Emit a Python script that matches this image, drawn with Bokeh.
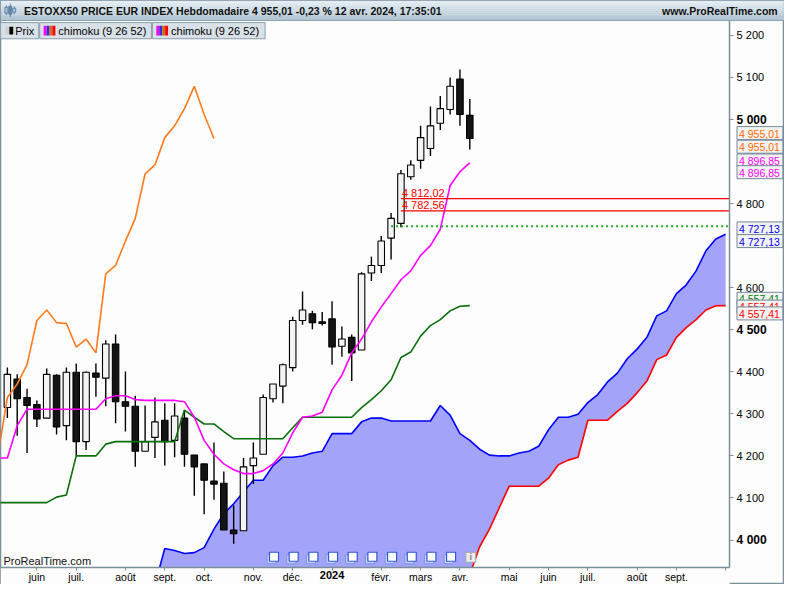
from bokeh.plotting import figure
from bokeh.models import Range1d, FixedTicker, Label, BoxAnnotation
from bokeh.embed import file_html
from bokeh.resources import INLINE

# ---------------- data (weekly bars, index 0 = week of 15 May 2023) ----------------
bar_index = list(range(48))
opens = [4315, 4383, 4339, 4322, 4290, 4392, 4272, 4399, 4234, 4397, 4385, 4466, 4329, 4318, 4211, 4244,
         4285, 4237, 4290, 4202, 4181, 4140, 4135, 4024, 4022, 4177, 4204, 4336, 4366, 4410, 4522, 4538,
         4519, 4526, 4461, 4482, 4452, 4635, 4653, 4718, 4753, 4864, 4903, 4931, 4991, 5024, 5096, 5010]
highs = [4410, 4394, 4360, 4332, 4408, 4394, 4410, 4420, 4401, 4420, 4475, 4489, 4401, 4343, 4320, 4339,
         4325, 4325, 4309, 4202, 4181, 4232, 4163, 4082, 4195, 4232, 4346, 4371, 4420, 4531, 4591, 4545,
         4542, 4568, 4508, 4489, 4637, 4674, 4723, 4778, 4880, 4903, 4985, 5031, 5056, 5100, 5119, 5049]
lows = [4290, 4248, 4207, 4269, 4290, 4251, 4237, 4200, 4214, 4341, 4318, 4278, 4258, 4174, 4211, 4195,
        4177, 4197, 4174, 4105, 4061, 4096, 4024, 3991, 4022, 4133, 4204, 4327, 4325, 4401, 4512, 4501,
        4510, 4417, 4436, 4378, 4452, 4616, 4635, 4667, 4744, 4857, 4883, 4913, 4975, 5012, 4985, 4929]
closes = [4394, 4336, 4320, 4288, 4394, 4269, 4399, 4234, 4399, 4387, 4466, 4329, 4318, 4211, 4234, 4281,
          4234, 4295, 4204, 4174, 4142, 4133, 4024, 4015, 4174, 4195, 4339, 4371, 4417, 4522, 4547, 4517,
          4515, 4459, 4478, 4445, 4633, 4653, 4711, 4765, 4871, 4892, 4957, 4985, 5026, 5079, 5012, 4955.01]

# Tenkan / Kijun from the week before bar 0 (index -1) to the last bar
line_index = list(range(-1, 48))
tenkan = [4195, 4195, 4272, 4311, 4311, 4311, 4311, 4311, 4311, 4311, 4311, 4336, 4343, 4343, 4334, 4332,
          4332, 4332, 4332, 4329, 4292, 4237, 4204, 4181, 4167, 4158, 4158, 4165, 4181, 4207, 4255, 4292,
          4295, 4304, 4357, 4392, 4445, 4478, 4519, 4554, 4586, 4619, 4640, 4677, 4700, 4739, 4843, 4876,
          4896.85]
kijun = [4089, 4089, 4089, 4089, 4089, 4089, 4102, 4107, 4200, 4200, 4200, 4228, 4234, 4234, 4234, 4234,
         4234, 4234, 4234, 4309, 4292, 4276, 4276, 4258, 4241, 4241, 4241, 4241, 4241, 4241, 4267, 4292,
         4292, 4292, 4292, 4292, 4292, 4315, 4334, 4355, 4381, 4434, 4447, 4485, 4510, 4524, 4545, 4556,
         4557.41]

chikou_shift = 26
senkou_idx = list(range(15, 74))
senkou_a = [3894, 3980, 3975, 3968, 3970, 3982, 4026, 4063, 4086, 4114, 4142, 4142, 4177, 4197, 4197, 4200,
            4207, 4211, 4253, 4253, 4253, 4281, 4290, 4290, 4283, 4283, 4283, 4283, 4283, 4320, 4297, 4253,
            4237, 4216, 4202, 4200, 4200, 4207, 4211, 4223, 4262, 4292, 4292, 4299, 4327, 4346, 4376, 4397,
            4431, 4454, 4482, 4533, 4545, 4586, 4607, 4640, 4688, 4716, 4727.13]
senkou_b = [3885, 3885, 3885, 3885, 3885, 3885, 3885, 3885, 3885, 3885, 3885, 3885, 3890, 3890, 3890, 3890,
            3890, 3890, 3890, 3900, 3900, 3900, 3900, 3900, 3900, 3900, 3905, 3905, 3905, 3910, 3910, 3915,
            3918, 3984, 4026, 4077, 4128, 4128, 4128, 4128, 4147, 4179, 4190, 4197, 4285, 4285, 4285, 4306,
            4325, 4350, 4378, 4429, 4440, 4482, 4505, 4524, 4547, 4557, 4557.41]

red_levels = [4812.02, 4782.56]
red_level_start = 40
green_level = 4746
green_level_start = 39
event_idx = [27, 29, 31, 33, 35, 37, 39, 41, 43, 45]
info_idx = 47

y_ticks = [4000, 4100, 4200, 4300, 4400, 4500, 4600, 4800, 5000, 5100, 5200]
y_tick_labels = ["4 000", "4 100", "4 200", "4 300", "4 400", "4 500", "4 600", "4 800", "5 000", "5 100", "5 200"]
y_bold_ticks = [4000, 4500, 5000]
x_ticks = [3, 7, 12, 16, 20, 25, 29, 33, 38, 42, 46, 51, 55, 59, 64, 68, 73]
x_tick_labels = ["juin", "juil.", "août", "sept.", "oct.", "nov.", "déc.", "2024", "févr.", "mars", "avr.",
                 "mai", "juin", "juil.", "août", "sept.", ""]
x_bold_labels = ["2024"]

title_text = "ESTOXX50 PRICE EUR INDEX Hebdomadaire 4 955,01 -0,23 % 12 avr. 2024, 17:35:01"
site_text = "www.ProRealTime.com"
legend_texts = ["Prix", "chimoku (9 26 52)", "chimoku (9 26 52)"]
watermark = "ProRealTime.com"

# ---------------- layout calibration ----------------
FONT = "Liberation Sans"
W, H = 784, 584          # figure size on the page
RW, RH = 800.0, 600.0    # reference picture size
PX_BAR, PX_OFF = 10.04, 7.0          # reference px per weekly bar, offset of bar 0
PX_PER_PT, PX_4000 = 0.432, 554.3    # reference px per index point, y of 4000
AXIS_COL = "#7b8e9b"
BG = "#fdfdfd"


def bx(rx):   # reference x pixel -> bar index units
    return (rx - PX_OFF) / PX_BAR


def vy(ry):   # reference y pixel -> index value
    return 4000 + (PX_4000 - ry) / PX_PER_PT


def sx(rx):   # reference x pixel -> screen x (from frame left)
    return rx * W / RW


def sy(ry):   # reference y pixel -> screen y (from frame bottom)
    return H - ry * H / RH


def fmt(v):
    return f"{v:,.2f}".replace(",", " ").replace(".", ",")


X0, X1, X_AXIS = bx(0), bx(RW), bx(744)
Y_BOT, Y_TOP, Y_AXIS, Y_PLOT_TOP = vy(RH), vy(0), vy(583), vy(21)


def box(l, r, t, b, color, line=None):
    return BoxAnnotation(left=sx(l), right=sx(r), top=sy(t), bottom=sy(b), left_units="screen",
                         right_units="screen", top_units="screen", bottom_units="screen",
                         fill_color=color, fill_alpha=1, line_color=line, line_width=1, line_alpha=1)


p = figure(width=W, height=H, x_range=Range1d(X0, X1), y_range=Range1d(Y_BOT, Y_TOP),
           output_backend="svg", toolbar_location=None, y_axis_location="right", min_border=0,
           background_fill_color=BG, border_fill_color=BG)
p.grid.visible = False
p.outline_line_color = AXIS_COL
p.outline_line_width = 1.5

ya = p.yaxis[0]
ya.fixed_location = X_AXIS
ya.bounds = (Y_AXIS, Y_PLOT_TOP)
ya.ticker = FixedTicker(ticks=y_ticks)
ya.major_label_overrides = {t: ("" if t in y_bold_ticks else lab) for t, lab in zip(y_ticks, y_tick_labels)}
ya.major_tick_out = 4
ya.major_tick_in = 0
ya.minor_tick_line_color = None
ya.axis_line_color = AXIS_COL
ya.axis_line_width = 1.5
ya.major_tick_line_color = AXIS_COL
ya.major_label_standoff = 3
ya.major_label_text_font = FONT
ya.major_label_text_font_size = "11px"
ya.major_label_text_color = "#000000"

xa = p.xaxis[0]
xa.fixed_location = Y_AXIS
xa.bounds = (X0, X_AXIS)
xa.ticker = FixedTicker(ticks=x_ticks)
xa.major_label_overrides = {t: ("" if lab in x_bold_labels else lab) for t, lab in zip(x_ticks, x_tick_labels)}
xa.major_tick_out = 3
xa.major_tick_in = 0
xa.minor_tick_line_color = None
xa.axis_line_color = AXIS_COL
xa.axis_line_width = 1.5
xa.major_tick_line_color = AXIS_COL
xa.major_label_standoff = 0
xa.major_label_text_font = FONT
xa.major_label_text_font_size = "10.5px"
xa.major_label_text_color = "#000000"

# ---- cloud ----
p.varea(x=senkou_idx, y1=senkou_a, y2=senkou_b, fill_color="#a3a3fa")
p.line(senkou_idx, senkou_a, line_color="#0000ff", line_width=1.6)
p.line(senkou_idx, senkou_b, line_color="#ff0000", line_width=1.6)

# mask for anything drawn below the time axis
p.quad(left=X0, right=X_AXIS, bottom=Y_BOT, top=Y_AXIS, fill_color=BG, line_color=None)

# ---- event icons ----
p.scatter([i - 0.15 for i in event_idx], [vy(574) for _ in event_idx], marker="square", size=9,
          fill_color="#c6d2fb", line_color="#7d95e6", line_width=1)
p.scatter([i + 0.1 for i in event_idx], [vy(571.5) for _ in event_idx], marker="square", size=9,
          fill_color="#ffffff", line_color="#3158d6", line_width=1.2)
p.scatter([info_idx + 0.1], [vy(572)], marker="square", size=10, fill_color="#ececec",
          line_color="#a0a0a0", line_width=1)
p.text([info_idx + 0.1], [vy(572)], text=["i"], text_font_size="9px", text_font_style="bold",
       text_color="#808080", text_align="center", text_baseline="middle")

# ---- candles ----
body_top = [max(o, c) for o, c in zip(opens, closes)]
body_bot = [min(o, c) for o, c in zip(opens, closes)]
body_fill = ["#f4f4f4" if c >= o else "#141414" for o, c in zip(opens, closes)]
p.segment(x0=bar_index, y0=lows, x1=bar_index, y1=highs, line_color="#000000", line_width=1.4)
p.vbar(x=bar_index, top=body_top, bottom=body_bot, width=0.66, fill_color=body_fill,
       line_color="#000000", line_width=1.1)

# ---- ichimoku lines ----
p.line(line_index, kijun, line_color="#0a6e0a", line_width=1.6)
p.line(line_index, tenkan, line_color="#ff00ff", line_width=1.6)
chikou_x = [i - chikou_shift for i in range(25, 48)]
chikou_y = closes[25:48]
p.line(chikou_x, chikou_y, line_color="#ff7a1c", line_width=1.6)

# ---- horizontal levels ----
for v in red_levels:
    p.segment(x0=red_level_start, y0=v, x1=X_AXIS, y1=v, line_color="#ff0000", line_width=1.2)
    p.add_layout(Label(x=red_level_start + 0.1, y=v, text=fmt(v), text_font=FONT, text_font_size="11px",
                       text_color="#ff0000", text_baseline="bottom"))
p.segment(x0=green_level_start, y0=green_level, x1=X_AXIS, y1=green_level, line_color="#22aa22",
          line_width=2, line_dash="2 3")

# ---- bold tick labels ----
for t, lab in zip(y_ticks, y_tick_labels):
    if t in y_bold_ticks:
        p.add_layout(Label(x=sx(744) + 7, x_units="screen", y=t, y_units="data", text=lab, text_font=FONT,
                           text_font_style="bold", text_font_size="12px", text_baseline="middle",
                           text_color="#000000"))
for t, lab in zip(x_ticks, x_tick_labels):
    if lab in x_bold_labels:
        p.add_layout(Label(x=t, y=sy(583) - 3, y_units="screen", text=lab, text_font=FONT,
                           text_font_style="bold", text_font_size="11px", text_baseline="top",
                           text_align="center", text_color="#000000"))

# ---- header bar ----
top_c, bot_c = (226, 236, 242), (178, 197, 210)
nb = 10
for k in range(nb):
    f = k / (nb - 1)
    c = "#%02x%02x%02x" % tuple(int(round(top_c[j] + (bot_c[j] - top_c[j]) * f)) for j in range(3))
    p.add_layout(box(0, RW, k * 2.0, k * 2.0 + 2.05, c))
p.add_layout(box(0, RW, 20, 21, "#8ea2b0"))
for cx, lo, hi, blo, bhi, col in [(6, 15, 5, 13, 7, "#b8cadb"), (10, 17, 3, 14, 6, "#5f82a6"),
                                   (14, 14, 6, 12, 8, "#b8cadb")]:
    p.add_layout(box(cx - 0.5, cx + 0.5, hi, lo, "#5f82a6"))
    p.add_layout(box(cx - 1.5, cx + 1.5, bhi, blo, col, "#5f82a6"))
p.add_layout(Label(x=sx(24), y=sy(10.5), x_units="screen", y_units="screen", text=title_text,
                   text_font=FONT, text_font_style="bold", text_font_size="10.5px",
                   text_baseline="middle", text_color="#111111"))
p.add_layout(Label(x=sx(793), y=sy(10.5), x_units="screen", y_units="screen", text=site_text,
                   text_font=FONT, text_font_style="bold", text_font_size="10.5px",
                   text_baseline="middle", text_align="right", text_color="#111111"))

# ---- legend row ----
for (l, r) in [(0, 39), (40, 154), (155, 270)]:
    p.add_layout(box(l, r, 22.7, 39.3, "#d9e1e8", "#8a9daa"))
p.add_layout(box(5, 8.6, 27, 35, "#cfcfcf"))
p.add_layout(box(9, 13, 27, 35, "#000000"))
stripe_cols = ["#ff00ff", "#3434c8", "#d2691e", "#ff0000"]
for base in (44, 159):
    for k, c in enumerate(stripe_cols):
        p.add_layout(box(base + 3 * k, base + 3 * k + 3, 26, 36, c))
for tx, txt in zip((15, 59, 174), legend_texts):
    p.add_layout(Label(x=sx(tx), y=sy(31), x_units="screen", y_units="screen", text=txt, text_font=FONT,
                       text_font_size="11px", text_baseline="middle", text_color="#000000"))

p.add_layout(Label(x=sx(3), y=sy(575.5), x_units="screen", y_units="screen", text=watermark,
                   text_font=FONT, text_font_size="11px", text_baseline="middle", text_color="#111111"))

# ---- value boxes on the price axis ----
value_boxes = [(closes[-1], -5.5, "#ff6a00"), (closes[-1], 8.5, "#ff6a00"),
               (tenkan[-1], -2.5, "#ff00ff"), (tenkan[-1], 9.5, "#ff00ff"),
               (senkou_a[-1], -6, "#0000ff"), (senkou_a[-1], 7, "#0000ff"),
               (kijun[-1], -7, "#008000"), (senkou_b[-1], 1, "#ff0000"), (senkou_b[-1], 8, "#ff0000")]
for v, dy, col in value_boxes:
    ry = PX_4000 - (v - 4000) * PX_PER_PT + dy
    p.add_layout(Label(x=sx(749.5) + 2, x_units="screen", y=sy(ry), y_units="screen", text=fmt(v),
                       text_font=FONT, text_font_size="10.5px", text_baseline="middle", text_color=col,
                       background_fill_color="#f3f3f3", background_fill_alpha=1,
                       border_line_color="#73889a", padding=dict(left=2, right=3, top=1, bottom=0)))

open("out.html", "w").write(file_html(p, INLINE))
